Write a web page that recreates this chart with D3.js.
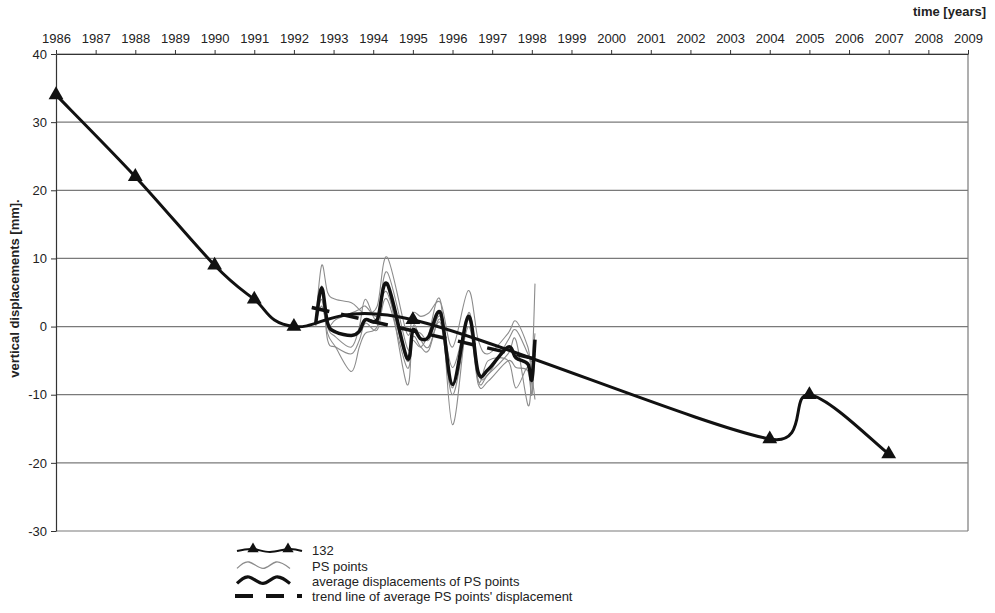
<!DOCTYPE html>
<html>
<head>
<meta charset="utf-8">
<script src="https://cdn.jsdelivr.net/npm/d3@7/dist/d3.min.js"></script>
<style>
  body { margin: 0; background: #fff; }
  svg { display: block; font-family: "Liberation Sans", Arial, sans-serif; }
</style>
</head>
<body>
<svg id="chart" width="995" height="613"></svg>
<script>
// Axis ticks
const yearTicks = d3.range(1986, 2010);
const valueTicks = [-30, -20, -10, 0, 10, 20, 30, 40];

// Levelling benchmark 132
const benchYears = [1986, 1988, 1990, 1991, 1992, 1995, 2004, 2005, 2007];
const benchValues = [34, 22, 9, 4, 0, 1, -16.5, -10, -18.7];

// PS acquisition dates (decimal years)
const psDates = [1992.55, 1992.70, 1992.85, 1993.05, 1993.45, 1993.65, 1993.80, 1994.10, 1994.35, 1994.85,
                 1995.00, 1995.20, 1995.40, 1995.70, 1996.00, 1996.40, 1996.65, 1996.90, 1997.40, 1997.60,
                 1997.90, 1998.00, 1998.08];

// Individual PS points
const ps1 = [1.0, 9.0, 5.0, 4.0, 3.5, 2.5, 2.0, 3.0, 10.2, -1.0, 2.0, 1.5, 2.0, 3.5, -3.0, 5.3, -2.0, -4.0, -1.0, 0.8, -3.0, -6.0, 6.3];
const ps2 = [0.0, 6.0, 0.0, -1.5, -3.0, 0.0, 4.0, 1.0, 8.0, -3.0, -2.0, -3.0, -1.0, 3.7, -14.4, 2.0, -8.0, -7.0, -4.0, -2.0, -11.5, -8.0, -10.7];
const ps3 = [0.5, 4.0, -1.0, -3.0, -6.6, -3.0, -1.0, 0.0, 6.0, -8.5, 0.0, -2.0, -3.0, 0.5, -10.0, 0.0, -8.5, -8.0, -5.0, -6.0, -6.5, -10.0, -2.0];
const ps4 = [0.5, 3.0, 0.0, 1.0, 2.0, 2.5, 3.0, 1.5, 5.0, -5.0, -1.0, -1.0, -2.0, 1.5, -6.0, 1.0, -7.0, -7.0, -2.0, -0.5, -4.0, -5.0, -1.0];
const ps5 = [0.5, 5.5, -2.0, -3.0, -4.0, -2.0, 0.5, -0.5, 4.0, -6.0, -1.5, -3.0, -3.5, 1.0, -9.0, 1.5, -8.0, -5.0, -5.0, -9.0, -6.0, -10.0, -4.0];
const psSeries = [ps1, ps2, ps3, ps4, ps5];

// Average displacement of the PS points
const psAverage = [0.5, 5.7, 0.5, -0.8, -1.3, -0.7, 1.0, 1.0, 6.3, -4.6, -0.5, -1.8, -1.5, 2.0, -8.5, 1.5, -6.8, -6.3, -3.0, -4.6, -5.5, -7.8, -1.9];

// Linear trend of the average
const trendYears = [1992.45, 1998.05];
const trendValues = [2.8, -4.7];

const legendLabels = ["132", "PS points", "average displacements of PS points", "trend line of average PS points' displacement"];

const svg = d3.select("#chart");
const m = { left: 56, right: 968, top: 54, bottom: 531 };
const FS = 13;

const x = d3.scaleLinear().domain([1986, 2009]).range([m.left, m.right]);
const y = d3.scaleLinear().domain([-30, 40]).range([m.bottom, m.top]);

// Spreadsheet-style smoothing: uniform Catmull-Rom Bezier whose tangents
// are shortened so a control point never passes the neighbouring point in x.
function curveSheet(context) {
  let pts = [];
  return {
    areaStart() {}, areaEnd() {},
    lineStart() { pts = []; },
    point(px, py) { pts.push([+px, +py]); },
    lineEnd() {
      const n = pts.length;
      if (!n) return;
      context.moveTo(pts[0][0], pts[0][1]);
      const tangent = (i, segW) => {
        const a = pts[Math.max(0, i - 1)], b = pts[Math.min(n - 1, i + 1)];
        let tx = (b[0] - a[0]) / 6, ty = (b[1] - a[1]) / 6;
        const lim = Math.abs(segW);
        if (Math.abs(tx) > lim && tx !== 0) { const k = lim / Math.abs(tx); tx *= k; ty *= k; }
        return [tx, ty];
      };
      for (let i = 0; i < n - 1; i++) {
        const p1 = pts[i], p2 = pts[i + 1], w = p2[0] - p1[0];
        const t1 = tangent(i, w), t2 = tangent(i + 1, w);
        context.bezierCurveTo(p1[0] + t1[0], p1[1] + t1[1], p2[0] - t2[0], p2[1] - t2[1], p2[0], p2[1]);
      }
    }
  };
}

// Horizontal gridlines
svg.append("g").selectAll("line").data(valueTicks).join("line")
  .attr("x1", m.left).attr("x2", m.right)
  .attr("y1", d => y(d)).attr("y2", d => y(d))
  .attr("stroke", "#7a7a7a").attr("stroke-width", 1.2);

// Right frame
svg.append("line").attr("x1", m.right).attr("x2", m.right).attr("y1", m.top).attr("y2", m.bottom)
  .attr("stroke", "#7a7a7a").attr("stroke-width", 1.2);

// Top axis (time)
const xAxis = svg.append("g").attr("transform", `translate(0,${m.top})`)
  .call(d3.axisTop(x).tickValues(yearTicks).tickFormat(d => String(d)).tickSize(4).tickSizeOuter(0));
xAxis.select(".domain").attr("stroke", "#333").attr("stroke-width", 1.2);
xAxis.selectAll(".tick line").attr("stroke", "#333");
xAxis.selectAll("text").attr("font-size", FS).attr("fill", "#222").attr("dy", "-0.3em");

// Left axis (values)
const yAxis = svg.append("g").attr("transform", `translate(${m.left},0)`)
  .call(d3.axisLeft(y).tickValues(valueTicks).tickFormat(d => String(d)).tickSize(5).tickSizeOuter(0));
yAxis.select(".domain").attr("stroke", "#333").attr("stroke-width", 1.2);
yAxis.selectAll(".tick line").attr("stroke", "#333");
yAxis.selectAll("text").attr("font-size", FS).attr("fill", "#222").attr("x", -9);

svg.append("text").attr("x", 986).attr("y", 16).attr("text-anchor", "end")
  .attr("font-size", FS).attr("font-weight", "bold").attr("fill", "#222").text("time [years]");

svg.append("text").attr("transform", `translate(19,${(m.top + m.bottom) / 2 - 4}) rotate(-90)`)
  .attr("text-anchor", "middle").attr("font-size", FS).attr("font-weight", "bold").attr("fill", "#222")
  .text("vertical displacements [mm].");

const lineGen = d3.line().x(d => x(d[0])).y(d => y(d[1])).curve(curveSheet);
const zip = (xs, vs) => xs.map((v, i) => [v, vs[i]]);

// PS points
svg.append("g").selectAll("path").data(psSeries).join("path")
  .attr("d", s => lineGen(zip(psDates, s)))
  .attr("fill", "none").attr("stroke", "#8c8c8c").attr("stroke-width", 1.1);

// Benchmark 132
svg.append("path").attr("d", lineGen(zip(benchYears, benchValues)))
  .attr("fill", "none").attr("stroke", "#111").attr("stroke-width", 3);

// Average of PS points
svg.append("path").attr("d", lineGen(zip(psDates, psAverage)))
  .attr("fill", "none").attr("stroke", "#111").attr("stroke-width", 3.5);

// Trend line
svg.append("path").attr("d", d3.line().x(d => x(d[0])).y(d => y(d[1]))(zip(trendYears, trendValues)))
  .attr("fill", "none").attr("stroke", "#111").attr("stroke-width", 3.5).attr("stroke-dasharray", "18,12");

// Triangle markers of the benchmark
const tri = d3.symbol().type(d3.symbolTriangle).size(95);
svg.append("g").selectAll("path").data(zip(benchYears, benchValues)).join("path")
  .attr("transform", d => `translate(${x(d[0])},${y(d[1])})`)
  .attr("d", tri).attr("fill", "#111");

// Legend
const lg = svg.append("g");
const rows = [550, 566, 581, 596];
const waveGen = d3.line().curve(d3.curveNatural);
const wave = (y0, amp) => waveGen([[237, y0 + amp * 0.6], [249, y0 - amp], [263, y0 + amp * 0.6], [276, y0 - amp], [290, y0 + amp * 0.6]]);

// 132
lg.append("path").attr("d", waveGen([[237, rows[0] + 1], [253, rows[0] - 1], [270, rows[0] + 2], [288, rows[0] - 1], [302, rows[0] + 1]]))
  .attr("fill", "none").attr("stroke", "#111").attr("stroke-width", 2);
[253, 288].forEach(px => lg.append("path").attr("transform", `translate(${px},${rows[0] - 1})`)
  .attr("d", d3.symbol().type(d3.symbolTriangle).size(55)).attr("fill", "#111"));
// PS points
lg.append("path").attr("d", wave(rows[1], 4)).attr("fill", "none").attr("stroke", "#8c8c8c").attr("stroke-width", 1.3);
// average
lg.append("path").attr("d", wave(rows[2], 4)).attr("fill", "none").attr("stroke", "#111").attr("stroke-width", 3.2);
// trend
lg.append("line").attr("x1", 235).attr("x2", 302).attr("y1", rows[3]).attr("y2", rows[3])
  .attr("stroke", "#111").attr("stroke-width", 4).attr("stroke-dasharray", "18,13");

lg.selectAll("text").data(legendLabels).join("text")
  .attr("x", 312).attr("y", (d, i) => rows[i] + 4.5)
  .attr("font-size", FS).attr("fill", "#222").text(d => d);
</script>
</body>
</html>
